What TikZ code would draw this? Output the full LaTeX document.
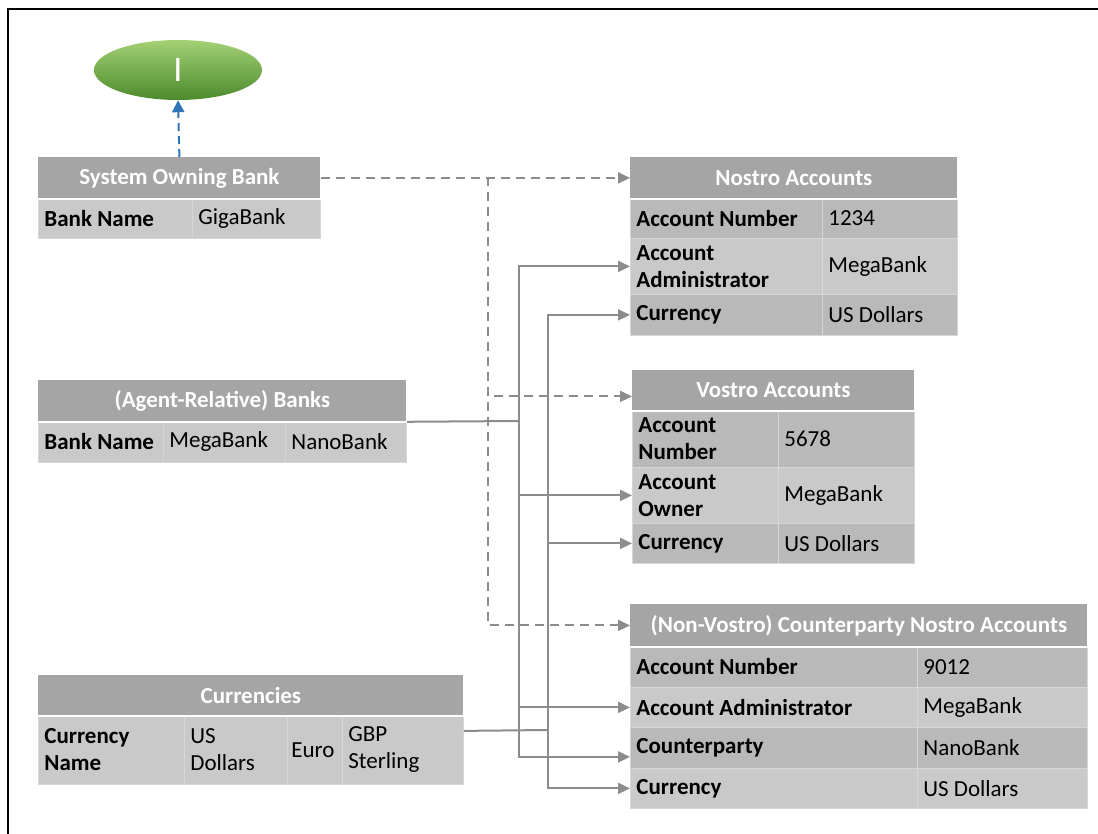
\documentclass[tikz,border=0pt]{standalone}
\usepackage{fontspec}
\setmainfont{Carlito}
\usepackage{tikz}
\usepackage{xcolor}
\usetikzlibrary{
    arrows.meta,
    shapes.geometric,
    positioning
}
\definecolor{headgray}{HTML}{A5A5A5}
\definecolor{banddark}{HTML}{B9B9B9}
\definecolor{bandlight}{HTML}{C9C9C9}
\definecolor{cellrule}{HTML}{D6D6D6}
\definecolor{linkgray}{HTML}{8C8C8C}
\definecolor{linkblue}{HTML}{2E75B6}
\definecolor{startlight}{HTML}{A3D174}
\definecolor{startdark}{HTML}{4C8A2C}
\tikzset{cell/.style={anchor=north west, inner xsep=6pt, inner ysep=1pt, draw=cellrule, line width=0.8pt, align=flush left, font=\fontsize{23}{27}\selectfont}}
\tikzset{thead/.style={cell, fill=headgray, draw=none, align=flush center, text=white, font=\fontsize{23}{27}\selectfont\bfseries}}
\tikzset{kdark/.style={cell, fill=banddark, font=\fontsize{23}{27}\selectfont\bfseries}}
\tikzset{klight/.style={cell, fill=bandlight, font=\fontsize{23}{27}\selectfont\bfseries}}
\tikzset{vdark/.style={cell, fill=banddark}}
\tikzset{vlight/.style={cell, fill=bandlight}}
\tikzset{headrule/.style={white, line width=2.5pt}}
\tikzset{link/.style={draw=linkgray, line width=2pt}}
\tikzset{linkto/.style={link, -{Triangle[length=12pt,width=11pt]}}}
\tikzset{dashlink/.style={link, dash pattern=on 9pt off 6pt, -{Triangle[length=12pt,width=11pt]}}}
\tikzset{upfeed/.style={draw=linkblue, line width=2pt, dash pattern=on 8pt off 5pt, -{Triangle[length=12pt,width=12pt]}}}

\begin{document}
\begin{tikzpicture}[x=1pt, y=-1pt]
    \useasboundingbox (0,0) rectangle (1098,834);
    \draw[line width=2.5pt] (8,834) -- (8,9) -- (1098,9);

    \node[ellipse, minimum width=168pt, minimum height=60pt, top color=startlight, bottom color=startdark, text=white, font=\fontsize{36}{36}\selectfont] (start) at (178,70) {I};

    % system owning bank
    \node[thead, text width=270pt, minimum height=41pt] (sobHead) at (38,157) {System Owning Bank};
    \node[klight, text width=142pt, minimum height=39pt] (sobKey) at (38,199) {Bank Name};
    \node[vlight, text width=116pt, minimum height=39pt] (sobVal) at (192,199) {GigaBank};
    \draw[headrule] (sobHead.south west) -- (sobHead.south east);

    % banks
    \node[thead, text width=356pt, minimum height=41pt] (bnkHead) at (38,380) {(Agent-Relative) Banks};
    \node[klight, text width=113pt, minimum height=41pt] (bnkKey) at (38,421) {Bank Name};
    \node[vlight, text width=110pt, minimum height=41pt] (bnkVal1) at (163,421) {MegaBank};
    \node[vlight, text width=109pt, minimum height=41pt] (bnkVal2) at (285,421) {NanoBank};
    \draw[headrule] (bnkHead.south west) -- (bnkHead.south east);

    % currencies
    \node[thead, text width=413pt, minimum height=40pt] (curHead) at (38,675) {Currencies};
    \node[klight, text width=134pt, minimum height=69pt] (curKey) at (38,715) {Currency\\Name};
    \node[vlight, text width=91pt, minimum height=69pt] (curVal1) at (184,715) {US\\Dollars};
    \node[vlight, inner xsep=4pt, text width=47pt, minimum height=69pt] (curVal2) at (287,715) {Euro};
    \node[vlight, text width=109pt, minimum height=69pt] (curVal3) at (342,715) {GBP\\Sterling};
    \draw[headrule] (curHead.south west) -- (curHead.south east);

    % nostro
    \node[thead, text width=315pt, minimum height=41pt] (nosHead) at (630,157) {Nostro Accounts};
    \node[kdark, text width=180pt, minimum height=40pt] (nosNumK) at (630,198) {Account Number};
    \node[vdark, text width=123pt, minimum height=40pt] (nosNumV) at (822,198) {1234};
    \node[klight, text width=180pt, minimum height=56pt] (nosAdmK) at (630,238) {Account\\Administrator};
    \node[vlight, text width=123pt, minimum height=56pt] (nosAdmV) at (822,238) {MegaBank};
    \node[kdark, text width=180pt, minimum height=41pt] (nosCurK) at (630,294) {Currency};
    \node[vdark, text width=123pt, minimum height=41pt] (nosCurV) at (822,294) {US Dollars};
    \draw[headrule] (nosHead.south west) -- (nosHead.south east);

    % vostro
    \node[thead, text width=270pt, minimum height=40pt] (vosHead) at (632,370) {Vostro Accounts};
    \node[kdark, text width=134pt, minimum height=57pt] (vosNumK) at (632,410) {Account\\Number};
    \node[vdark, text width=124pt, minimum height=57pt] (vosNumV) at (778,410) {5678};
    \node[klight, text width=134pt, minimum height=56pt] (vosOwnK) at (632,467) {Account\\Owner};
    \node[vlight, text width=124pt, minimum height=56pt] (vosOwnV) at (778,467) {MegaBank};
    \node[kdark, text width=134pt, minimum height=40pt] (vosCurK) at (632,523) {Currency};
    \node[vdark, text width=124pt, minimum height=40pt] (vosCurV) at (778,523) {US Dollars};
    \draw[headrule] (vosHead.south west) -- (vosHead.south east);

    % counterparty nostro
    \node[thead, text width=445pt, minimum height=42pt] (cpnHead) at (630,604) {(Non-Vostro) Counterparty Nostro Accounts};
    \node[kdark, text width=275pt, minimum height=41pt] (cpnNumK) at (630,646) {Account Number};
    \node[vdark, text width=158pt, minimum height=41pt] (cpnNumV) at (917,646) {9012};
    \node[klight, text width=275pt, minimum height=40pt] (cpnAdmK) at (630,687) {Account Administrator};
    \node[vlight, text width=158pt, minimum height=40pt] (cpnAdmV) at (917,687) {MegaBank};
    \node[kdark, text width=275pt, minimum height=41pt] (cpnCtpK) at (630,727) {Counterparty};
    \node[vdark, text width=158pt, minimum height=41pt] (cpnCtpV) at (917,727) {NanoBank};
    \node[klight, text width=275pt, minimum height=40pt] (cpnCurK) at (630,768) {Currency};
    \node[vlight, text width=158pt, minimum height=40pt] (cpnCurV) at (917,768) {US Dollars};
    \draw[headrule] (cpnHead.south west) -- (cpnHead.south east);

    % links
    \draw[upfeed] (sobHead.north) -- (start.south);

    \coordinate (dashBus) at (488,177);
    \draw[dashlink] (sobHead.east) -- (nosHead.west);
    \draw[dashlink] (dashBus) |- ([yshift=-6pt]vosHead.west);
    \draw[dashlink] (dashBus) |- (cpnHead.west);

    \coordinate (bankBus) at (519,421);
    \draw[link] (bnkHead.south east) -- (bankBus);
    \draw[linkto] (bankBus) |- (nosAdmK.west);
    \draw[linkto] (bankBus) |- (vosOwnK.west);
    \draw[linkto] (bankBus) |- (cpnAdmK.west);
    \draw[linkto] (bankBus) |- ([yshift=-9pt]cpnCtpK.west);

    \coordinate (curBus) at (548,730);
    \draw[link] ([yshift=19pt]curVal3.east) -- (curBus);
    \draw[linkto] (curBus) |- (nosCurK.west);
    \draw[linkto] (curBus) |- (vosCurK.west);
    \draw[linkto] (curBus) |- (cpnCurK.west);
\end{tikzpicture}
\end{document}
